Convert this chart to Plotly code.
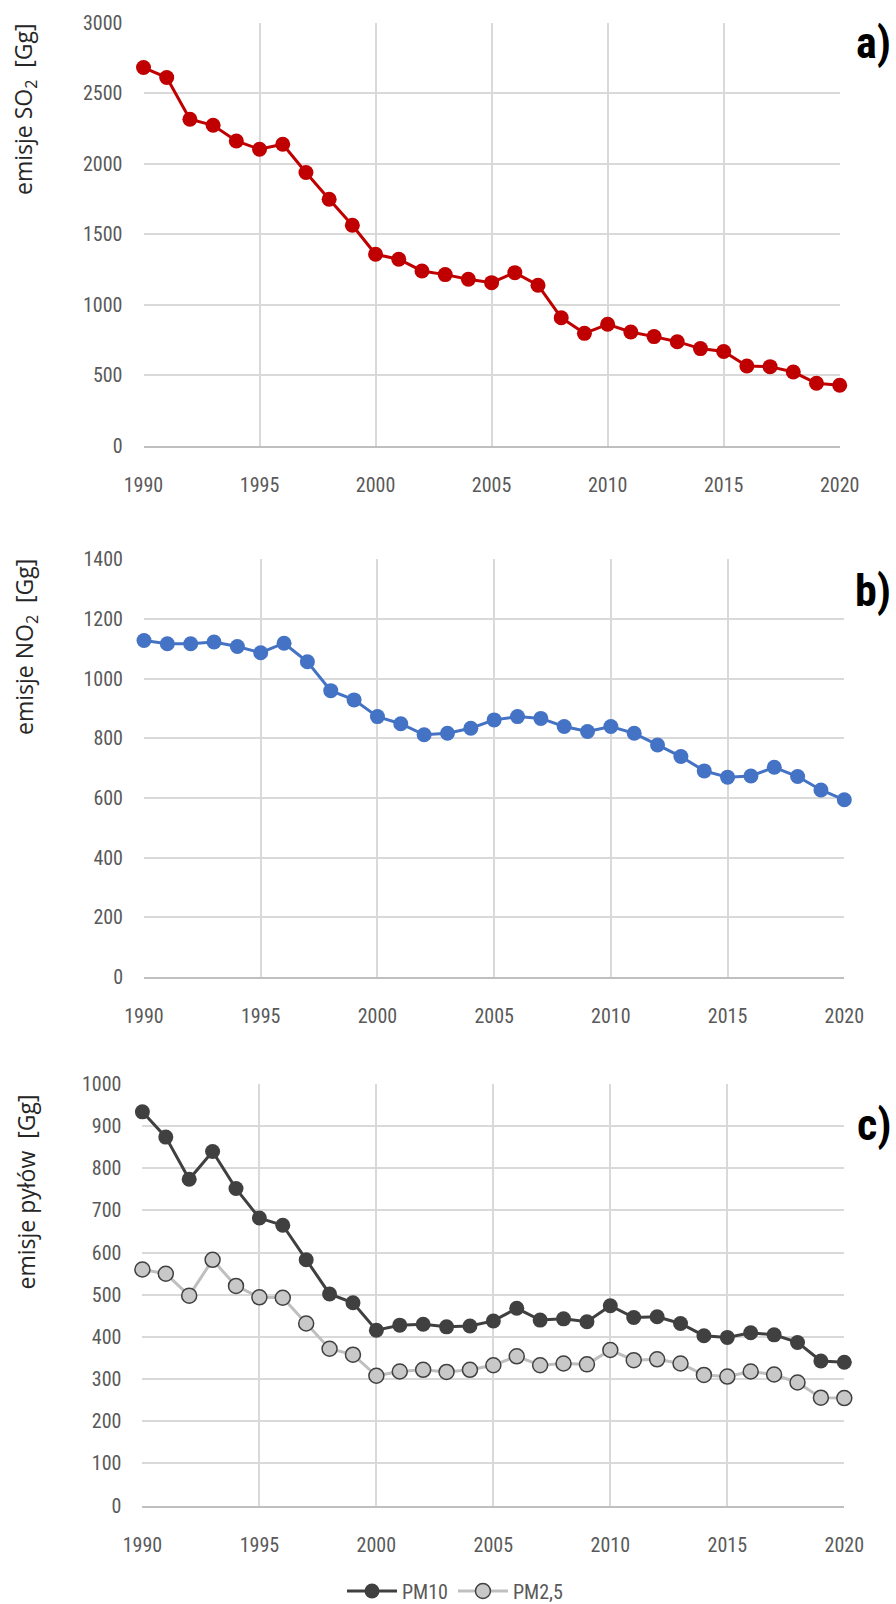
import plotly.graph_objects as go

years = list(range(1990, 2021))
so2 = [2681, 2610, 2315, 2272, 2161, 2102, 2138, 1937, 1748, 1564, 1358, 1323, 1240, 1214, 1181,
       1157, 1228, 1139, 909, 798, 862, 808, 775, 739, 690, 669, 567, 562, 524, 444, 430]
no2 = [1128, 1117, 1117, 1123, 1108, 1087, 1119, 1057, 960, 929, 873, 849, 812, 817, 834,
       862, 873, 867, 840, 823, 840, 817, 778, 739, 691, 670, 674, 703, 672, 627, 594]
pm10 = [934, 874, 774, 840, 752, 682, 665, 583, 502, 481, 416, 428, 430, 424, 426,
        438, 468, 440, 443, 436, 474, 446, 448, 432, 403, 399, 410, 405, 387, 343, 340]
pm25 = [560, 550, 498, 583, 521, 494, 493, 432, 372, 358, 308, 318, 322, 317, 322,
        333, 354, 333, 337, 335, 369, 345, 347, 337, 310, 306, 318, 311, 292, 256, 255]
ytitles = ["emisje SO<sub>2</sub>  [Gg]", "emisje NO<sub>2</sub>  [Gg]", "emisje pyłów  [Gg]"]
labels = ["a)", "b)", "c)"]

W, H = 896, 1604
fig = go.Figure()

def fx(a, b):
    return [a / W, b / W]

def fy(top, bottom):
    return [1 - bottom / H, 1 - top / H]

NARROW = "Liberation Sans Narrow, Roboto Condensed, Liberation Sans"
tickfont = dict(family=NARROW, size=20, color="#595959")
titlefont = dict(family="Open Sans, DejaVu Sans", size=23, color="#262626")

fig.add_trace(go.Scatter(x=years, y=so2, mode="lines+markers", xaxis="x", yaxis="y",
                         line=dict(color="#c00000", width=3),
                         marker=dict(size=15, color="#c00000"), cliponaxis=False, showlegend=False))
fig.add_trace(go.Scatter(x=years, y=no2, mode="lines+markers", xaxis="x2", yaxis="y2",
                         line=dict(color="#4472c4", width=3),
                         marker=dict(size=15, color="#4472c4"), cliponaxis=False, showlegend=False))
fig.add_trace(go.Scatter(x=years, y=pm10, mode="lines+markers", xaxis="x3", yaxis="y3", name="PM10",
                         line=dict(color="#404040", width=3),
                         marker=dict(size=15, color="#404040"), cliponaxis=False))
fig.add_trace(go.Scatter(x=years, y=pm25, mode="lines+markers", xaxis="x3", yaxis="y3", name="PM2,5",
                         line=dict(color="#bfbfbf", width=3),
                         marker=dict(size=15, color="#c8c8c8", line=dict(color="#404040", width=1.5)),
                         cliponaxis=False))

xcommon = dict(range=[1990, 2020], tickvals=[1990, 1995, 2000, 2005, 2010, 2015, 2020],
               showgrid=True, gridcolor="#d9d9d9", gridwidth=2, showline=True,
               linecolor="#bfbfbf", linewidth=2, zeroline=False, ticks="",
               tickfont=tickfont, automargin=False, ticklabelstandoff=20)
ycommon = dict(showgrid=True, gridcolor="#d9d9d9", gridwidth=2, zeroline=False,
               showline=False, ticks="", tickfont=tickfont, automargin=False,
               ticklabelstandoff=20)

fig.update_layout(
    width=W, height=H, margin=dict(l=0, r=0, t=0, b=0, autoexpand=False),
    paper_bgcolor="white", plot_bgcolor="white",
    xaxis=dict(domain=fx(143.5, 839.7), anchor="y", **xcommon),
    yaxis=dict(domain=fy(22.5, 446), anchor="x", range=[0, 3000], dtick=500, **ycommon),
    xaxis2=dict(domain=fx(144, 844.3), anchor="y2", **xcommon),
    yaxis2=dict(domain=fy(559.4, 977), anchor="x2", range=[0, 1400], dtick=200, **ycommon),
    xaxis3=dict(domain=fx(142.4, 844.3), anchor="y3", **xcommon),
    yaxis3=dict(domain=fy(1084, 1505.6), anchor="x3", range=[0, 1000], dtick=100, **ycommon),
    legend=dict(orientation="h", x=455 / W, xanchor="center", y=1 - 1591 / H, yanchor="middle",
                font=dict(family=NARROW, size=20, color="#595959"),
                itemwidth=50, bgcolor="rgba(0,0,0,0)", tracegroupgap=0),
)

for txt, yy in zip(ytitles, [21, 557, 1093]):
    fig.add_annotation(text=txt, xref="paper", yref="paper", textangle=-90,
                       x=25 / W, y=1 - yy / H, xanchor="center", yanchor="top", showarrow=False,
                       font=titlefont)

for txt, yy in zip(labels, [43, 591, 1125]):
    fig.add_annotation(text="<b>" + txt + "</b>", xref="paper", yref="paper",
                       x=893 / W, y=1 - yy / H, xanchor="right", yanchor="middle", showarrow=False,
                       font=dict(family=NARROW, size=44, color="black"))

fig.write_html("out.html")
